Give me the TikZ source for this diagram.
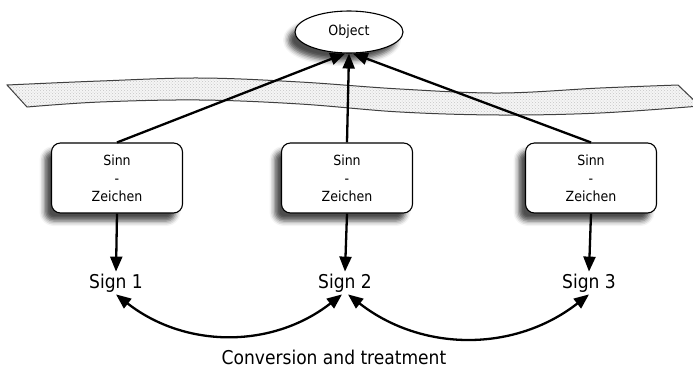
\documentclass[tikz,border=0pt]{standalone}
\usepackage{fontspec}
\setmainfont{DejaVu Sans Condensed}
\usetikzlibrary{arrows.meta,shapes.geometric,shadows.blur,patterns}
\tikzset{
  myshadow/.style={blur shadow={shadow xshift=-7pt, shadow yshift=-8pt, shadow blur radius=5pt, shadow opacity=70}},
  box/.style={draw, line width=1.1pt, rounded corners=9pt, fill=white, minimum width=131pt, minimum height=70pt, align=center, font=\fontsize{14}{18}\selectfont, myshadow},
  objnode/.style={ellipse, draw, line width=1.1pt, fill=white, minimum width=108pt, minimum height=42pt, font=\fontsize{14}{16}\selectfont, myshadow},
  sign/.style={font=\fontsize{19}{21}\selectfont, inner sep=2pt},
  arr/.style={line width=2.3pt, -{Triangle[length=15pt,width=12pt]}},
  darr/.style={line width=2.3pt, {Triangle[length=15pt,width=12pt]}-{Triangle[length=15pt,width=12pt]}},
  band/.style={draw=black!75, line width=1pt, pattern=crosshatch dots, pattern color=gray!45, preaction={fill=gray!8}}
}
\begin{document}
\begin{tikzpicture}[x=1pt,y=-1pt]
\useasboundingbox (0,0) rectangle (693,368);
% band
\path[band] plot[smooth, tension=0.6] coordinates {(7,85) (100,81) (200,78) (300,82) (400,89) (500,93) (600,88) (678,85)}
  -- plot[smooth, tension=0.6] coordinates {(700,106) (600,113) (500,115) (400,112) (300,104) (200,100) (100,102) (27,107)} -- cycle;
% nodes
\node[objnode] (obj) at (349,32) {Object};
\node[box] (b1) at (117,178) {Sinn\\-\\Zeichen};
\node[box] (b2) at (347,178) {Sinn\\-\\Zeichen};
\node[box] (b3) at (591,178) {Sinn\\-\\Zeichen};
\node[sign] (s1) at (116,283) {Sign 1};
\node[sign] (s2) at (345,283) {Sign 2};
\node[sign] (s3) at (589,283) {Sign 3};
\node[font=\fontsize{19}{21}\selectfont] (conv) at (334,357) {Conversion and treatment};
% connectors
\draw[arr] (b1.north) -- (obj.-100);
\draw[arr] (b2.north) -- (obj.south);
\draw[arr] (b3.north) -- (obj.-80);
\draw[arr] (b1.south) -- (s1.north);
\draw[arr] (b2.south) -- (s2.north);
\draw[arr] (b3.south) -- (s3.north);
\draw[darr] (s1.south) to[bend right=38] ([xshift=-3pt]s2.south);
\draw[darr] ([xshift=3pt]s2.south) to[bend right=38] (s3.south);
\end{tikzpicture}
\end{document}
